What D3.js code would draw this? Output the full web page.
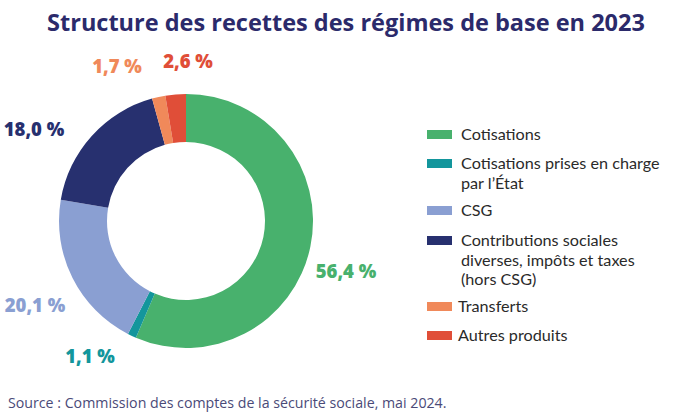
<!DOCTYPE html>
<html><head><meta charset="utf-8">
<script src="https://cdn.jsdelivr.net/npm/d3@7"></script>
<style>body{margin:0;background:#fff}svg{display:block}</style>
</head><body>
<script>
const categories = ["Cotisations","Cotisations prises en charge par l’État","CSG","Contributions sociales diverses, impôts et taxes (hors CSG)","Transferts","Autres produits"];
const legendLines = [["Cotisations"],["Cotisations prises en charge","par l’État"],["CSG"],["Contributions sociales","diverses, impôts et taxes","(hors CSG)"],["Transferts"],["Autres produits"]];
const values = [56.4, 1.1, 20.1, 18.0, 1.7, 2.6];
const valueLabels = ["56,4 %","1,1 %","20,1 %","18,0 %","1,7 %","2,6 %"];
const colors = ["#48b16d","#13969c","#8a9fd2","#27306f","#f0895a","#e04e38"];

const W=679,H=415;
const svg=d3.select("body").append("svg").attr("width",W).attr("height",H);
const font="'Open Sans', sans-serif";
const legFont="Lato, sans-serif";

svg.append("text").attr("x",346).attr("y",31).attr("text-anchor","middle")
  .attr("font-family",font).attr("font-weight",700).attr("font-size",23.5)
  .attr("fill","#2b2a6b").text("Structure des recettes des régimes de base en 2023");

const cx=186, cy=221, R=127, r=79;
const pie=d3.pie().sort(null).value(d=>d)(values);
const arc=d3.arc().innerRadius(r).outerRadius(R);
const g=svg.append("g").attr("transform",`translate(${cx},${cy})`);
g.selectAll("path").data(pie).join("path").attr("d",arc).attr("fill",(d,i)=>colors[i]);

const labelPos=[[346,278],[90,363],[35,312],[34,136],[117,73],[188,68]];
const lg=svg.append("g");
valueLabels.forEach((t,i)=>{
  lg.append("text").attr("x",labelPos[i][0]).attr("y",labelPos[i][1]).attr("text-anchor","middle")
    .attr("font-family",font).attr("font-weight",800).attr("font-size",18.5)
    .attr("fill",colors[i]).text(t);
});

const legY=[134,163,210,240,306,335];
const legX=[461,461,461,461,458,458];
const leg=svg.append("g");
legendLines.forEach((lines,i)=>{
  leg.append("rect").attr("x",427).attr("y",legY[i]-4).attr("width",25).attr("height",9).attr("fill",colors[i]);
  lines.forEach((ln,j)=>{
    leg.append("text").attr("x",legX[i]).attr("y",legY[i]+j*19.6+6).attr("font-family",legFont)
      .attr("font-size",16.2).attr("fill","#2a2a2a").text(ln);
  });
});

svg.append("text").attr("x",8).attr("y",408).attr("font-family",font).attr("font-size",14.2)
  .attr("fill","#4a4a78").text("Source : Commission des comptes de la sécurité sociale, mai 2024.");
</script>
</body></html>
